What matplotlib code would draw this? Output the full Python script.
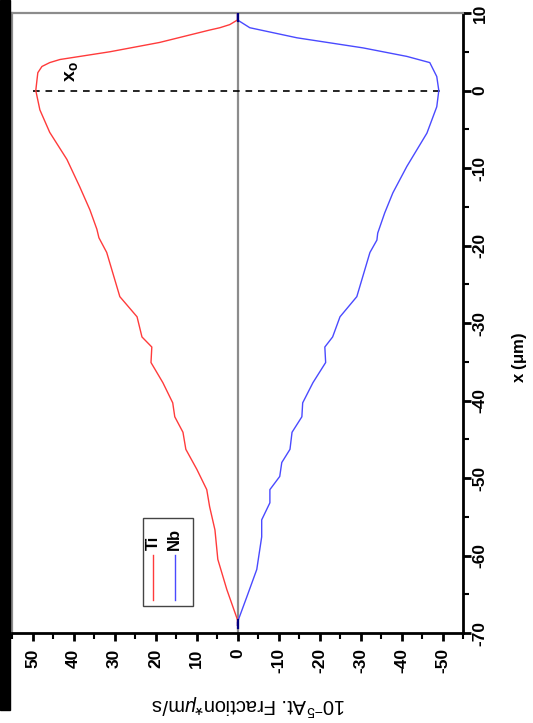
import matplotlib
matplotlib.use("Agg")
import matplotlib.pyplot as plt
from matplotlib.patches import Rectangle
from matplotlib.ticker import MultipleLocator

plt.rcParams['font.family'] = ['Liberation Sans', 'DejaVu Sans']
plt.rcParams['mathtext.fontset'] = 'custom'
plt.rcParams['mathtext.rm'] = 'Liberation Sans'
plt.rcParams['mathtext.it'] = 'Liberation Sans:italic'
plt.rcParams['mathtext.bf'] = 'Liberation Sans:bold'

# Interdiffusion flux profiles (10^-5 at. fraction * um/s) versus position x (um)
ti_x = [10.0, 9.1, 8.5, 8.1, 7.8, 6.2, 5.0, 4.0, 3.6, 3.1, 2.3, 1.4, 0.0, -2.5, -5.4,
        -8.9, -12.4, -15.4, -17.9, -19.0, -20.9, -26.6, -29.2, -31.8, -33.1, -35.1,
        -37.7, -40.3, -42.1, -44.1, -46.3, -48.9, -51.5, -53.7, -56.7, -60.5, -64.4,
        -68.3, -69.0]
ti_flux = [0.0, 0.0, 1.9, 4.3, 6.8, 19.0, 31.1, 43.3, 45.8, 47.7, 48.7, 48.9, 49.2,
           48.2, 45.8, 41.6, 38.5, 36.0, 34.3, 33.8, 31.9, 28.7, 24.5, 23.3, 20.9,
           21.1, 18.2, 15.8, 15.3, 13.3, 12.6, 9.9, 7.5, 6.8, 5.5, 4.8, 2.6, 0.0, 0.0]

nb_x = [10.0, 9.1, 8.1, 6.8, 5.5, 4.4, 3.6, 1.8, 0.0, -2.1, -5.5, -9.8, -13.2, -15.8,
        -18.4, -19.3, -20.9, -26.6, -29.2, -31.8, -33.1, -35.1, -37.7, -40.3, -42.1,
        -44.1, -46.3, -48.0, -49.8, -51.5, -53.2, -55.4, -57.6, -61.8, -65.3, -68.6,
        -69.0]
nb_flux = [0.0, 0.0, -3.0, -14.5, -30.6, -41.3, -46.9, -48.6, -49.1, -48.6, -46.2,
           -41.3, -37.9, -35.9, -34.2, -34.0, -32.3, -29.1, -25.0, -23.2, -21.3, -21.5,
           -18.4, -15.9, -15.7, -13.3, -12.8, -10.8, -10.3, -7.9, -7.9, -5.9, -5.9,
           -4.7, -2.3, 0.0, 0.0]

x0_pos = 0.0
flux_ticks = [50, 40, 30, 20, 10, 0, -10, -20, -30, -40, -50]
x_ticks = [10, 0, -10, -20, -30, -40, -50, -60, -70]

W, H = 533, 723
fig = plt.figure(figsize=(W / 100, H / 100), dpi=100)
fig.patches.append(Rectangle((0, 1 - 710 / H), 10 / W, 710 / H,
                             transform=fig.transFigure, color='black', zorder=0))

ax = fig.add_axes([12 / W, 1 - 633 / H, (463 - 12) / W, (633 - 13) / H])
ax.set_xlim(55, -55)
ax.set_ylim(-70, 10)

red = '#ff3b3b'
blue = '#4a4aff'

ax.axvline(0, color='#8c8c8c', lw=1.6, zorder=1)
ax.plot([50, -50], [x0_pos, x0_pos], color='black', lw=1.2, ls=(0, (4, 3.5)), zorder=2)
ax.plot(ti_flux, ti_x, color=red, lw=1.0, zorder=3)
ax.plot(nb_flux, nb_x, color=blue, lw=1.0, zorder=3)
ax.plot([0, 0], [9.0, 10.0], color='#000080', lw=1.6, zorder=4)
ax.plot([0, 0], [-68.3, -69.3], color='#000080', lw=1.6, zorder=4)

ax.text(40.4, 2.4, r'$\mathbf{x}_\mathbf{o}$', rotation=90, fontsize=14,
        ha='center', va='center')

# legend drawn sideways
ax.add_patch(Rectangle((10.9, -66.5), 23.1 - 10.9, -55.1 - (-66.5), fill=False,
                       edgecolor='#444444', lw=1.0, zorder=5))
ax.plot([20.6, 20.6], [-59.9, -65.7], color=red, lw=1.0, zorder=5)
ax.plot([15.3, 15.3], [-59.9, -65.7], color=blue, lw=1.0, zorder=5)
ax.text(20.6, -59.3, 'Ti', rotation=90, fontsize=12, fontweight='bold',
        ha='center', va='bottom', zorder=6)
ax.text(15.3, -59.3, 'Nb', rotation=90, fontsize=12, fontweight='bold',
        ha='center', va='bottom', zorder=6)

# axes styling
for side in ('top', 'left'):
    ax.spines[side].set_color('#8c8c8c')
    ax.spines[side].set_linewidth(1.6)
for side in ('bottom', 'right'):
    ax.spines[side].set_color('black')
    ax.spines[side].set_linewidth(2.0)

ax.yaxis.tick_right()
ax.set_xticks(flux_ticks)
ax.set_xticklabels([str(t) for t in flux_ticks], rotation=90, fontsize=12.5,
                   fontweight='bold')
ax.set_yticks(x_ticks)
ax.set_yticklabels([str(t) for t in x_ticks], rotation=90, fontsize=12.5,
                   fontweight='bold', va='center')
ax.xaxis.set_minor_locator(MultipleLocator(5))
ax.yaxis.set_minor_locator(MultipleLocator(5))
ax.tick_params(which='major', direction='out', length=6, width=2)
ax.tick_params(which='minor', direction='out', length=4, width=1.5)
ax.tick_params(axis='x', which='both', bottom=True, top=False, pad=5)
ax.tick_params(axis='y', which='both', right=True, left=False, pad=1)

ax.set_xlabel(r'10$^{-5}$At. Fraction*$\mu$m/s', fontsize=14.5, rotation=180,
              va='center', ha='center')
ax.xaxis.set_label_coords((249 - 12) / 451, (633 - 705) / 620)
ax.set_ylabel(r'x ($\mathbf{\mu}$m)', fontsize=12, fontweight='bold',
              rotation=90, va='center', ha='center')
ax.yaxis.set_label_position('right')
ax.yaxis.set_label_coords((510 - 12) / 451, (633 - 357) / 620)

fig.savefig('out.png', dpi=100)
